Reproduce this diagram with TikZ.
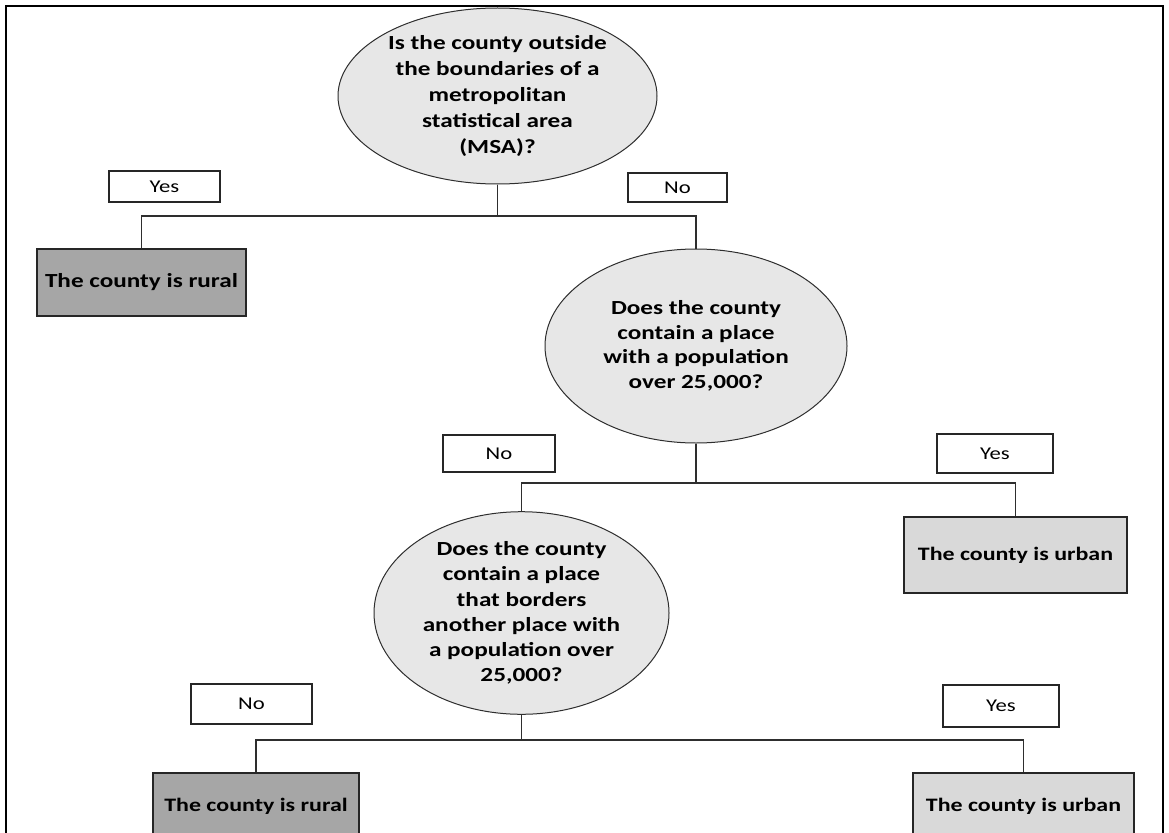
\documentclass[tikz,border=0pt]{standalone}
\usepackage{fontspec}
\setmainfont[FakeStretch=1.26]{Carlito}
\usetikzlibrary{shapes.geometric}
\definecolor{qfill}{HTML}{E7E7E7}
\definecolor{urbanfill}{HTML}{D9D9D9}
\definecolor{ruralfill}{HTML}{A6A6A6}
\definecolor{linegray}{HTML}{2E2E2E}
\begin{document}
\begin{tikzpicture}[x=1pt, y=-1pt,
        question/.style={ellipse, draw=linegray, line width=1pt, fill=qfill, inner sep=0pt, align=center, font=\bfseries\fontsize{20}{25}\selectfont},
        answer/.style={draw=black!85, line width=1.6pt, inner sep=0pt, font=\fontsize{18}{22}\selectfont},
        result/.style={draw=black!85, line width=1.6pt, inner sep=0pt, font=\bfseries\fontsize{19}{24}\selectfont},
        link/.style={draw=linegray, line width=1.5pt}
    ]
        \useasboundingbox (0,0) rectangle (1169,832);
        \clip (0,0) rectangle (1169,832);
        \draw[line width=2pt] (6,6) rectangle (1163,845);

        \node[question, minimum width=319pt, minimum height=176pt, font=\bfseries\fontsize{20}{26}\selectfont] (msa) at (497.5,96) {Is the county outside\\the boundaries of a\\metropolitan\\statistical area\\(MSA)?};
        \node[answer, minimum width=111pt, minimum height=31pt] (yesmsa) at (164.5,186.5) {Yes};
        \node[answer, minimum width=99pt, minimum height=29pt] (nomsa) at (677.5,187.5) {No};
        \node[result, fill=ruralfill, minimum width=209pt, minimum height=67pt, font=\bfseries\fontsize{20}{24}\selectfont] (rural1) at (141.5,282.5) {The county is rural};

        \node[question, minimum width=302pt, minimum height=194pt, font=\bfseries\fontsize{20}{24.5}\selectfont] (pop) at (696,346) {Does the county\\contain a place\\with a population\\over 25,000?};
        \node[answer, minimum width=112pt, minimum height=37pt] (nopop) at (499,453.5) {No};
        \node[answer, minimum width=116pt, minimum height=39pt] (yespop) at (995,453.5) {Yes};
        \node[result, fill=urbanfill, minimum width=223pt, minimum height=76pt] (urban1) at (1015.5,555) {The county is urban};

        \node[question, minimum width=295pt, minimum height=192pt, font=\bfseries\fontsize{20}{25.3}\selectfont] (border) at (521.5,613) {Does the county\\contain a place\\that borders\\another place with\\a population over\\25,000?};
        \node[answer, minimum width=121pt, minimum height=40pt] (noborder) at (251.5,704) {No};
        \node[answer, minimum width=116pt, minimum height=42pt] (yesborder) at (1001,706) {Yes};
        \node[result, fill=ruralfill, minimum width=206pt, minimum height=66pt] (rural2) at (256,806) {The county is rural};
        \node[result, fill=urbanfill, minimum width=221pt, minimum height=66pt] (urban2) at (1023.5,806) {The county is urban};

        \coordinate (split1) at (497.5,216);
        \coordinate (split2) at (696,483);
        \coordinate (split3) at (521.5,740);

        \draw[link] (msa) -- (split1) -| (rural1);
        \draw[link] (split1) -| (pop);
        \draw[link] (pop) -- (split2) -| (border);
        \draw[link] (split2) -| (urban1);
        \draw[link] (border) -- (split3) -| (rural2);
        \draw[link] (split3) -| (urban2);
    \end{tikzpicture}
\end{document}
